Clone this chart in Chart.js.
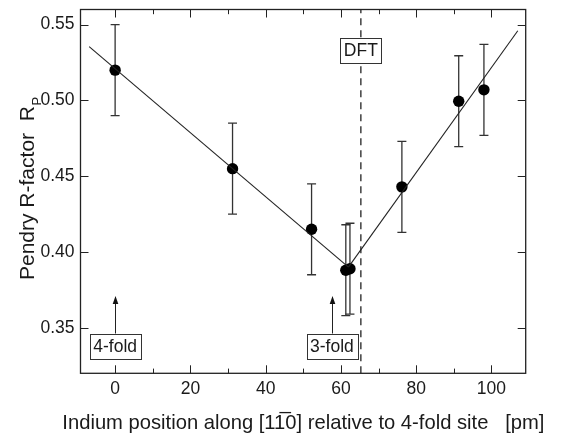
<!DOCTYPE html>
<html>
<head>
<meta charset="utf-8">
<script src="https://cdn.jsdelivr.net/npm/chart.js@4"></script>
<style>
  html, body { margin: 0; padding: 0; background: #fff; }
  #wrap { width: 561px; height: 438px; }
</style>
</head>
<body>
<div id="wrap"><canvas id="c" width="561" height="438"></canvas></div>
<script>
// ---- data ----
const positions = [0, 31.2, 52.2, 61.3, 62.4, 76.2, 91.3, 98.0];
const rFactors  = [0.520, 0.455, 0.415, 0.388, 0.389, 0.443, 0.4995, 0.507];
const rErrors   = [0.03, 0.03, 0.03, 0.03, 0.03, 0.03, 0.03, 0.03];

const leftFitX  = [-6.9, 62.0];
const leftFitY  = [0.5355, 0.390];
const rightFitX = [62.0, 107.0];
const rightFitY = [0.390, 0.546];

const dftPosition = 65.3;

const xTickValues  = [0, 10, 20, 30, 40, 50, 60, 70, 80, 90, 100];
const xLabelValues = [0, 20, 40, 60, 80, 100];
const yTickValues  = [0.35, 0.40, 0.45, 0.50, 0.55];

const annotationLabels = ['4-fold', '3-fold', 'DFT'];
const annotationX      = [0, 57.6, 65.3];
const annotationY      = [0.338, 0.338, 0.533];
const arrowX           = [0, 57.6];
const arrowTipY        = [0.371, 0.371];

const xTitle = 'Indium position along [1\u0031\u03050] relative to 4-fold site   [pm]';
const yTitleMain = 'Pendry R-factor  R';
const yTitleSub = 'P';

// ---- styling ----
const FONT = '"Liberation Sans", Arial, Helvetica, sans-serif';
const INK = '#1a1a1a';
const X_MIN = -9.2, X_MAX = 109.1, Y_MIN = 0.32, Y_MAX = 0.56;

const toXY = (xs, ys) => xs.map((x, i) => ({ x: x, y: ys[i] }));

const errorBarPlugin = {
  id: 'errorBars',
  beforeDatasetsDraw(chart) {
    const { ctx, scales: { x, y } } = chart;
    ctx.save();
    ctx.strokeStyle = '#333';
    ctx.lineWidth = 1.3;
    positions.forEach((p, i) => {
      const px = x.getPixelForValue(p);
      const top = y.getPixelForValue(rFactors[i] + rErrors[i]);
      const bot = y.getPixelForValue(rFactors[i] - rErrors[i]);
      ctx.beginPath();
      ctx.moveTo(px, top); ctx.lineTo(px, bot);
      ctx.moveTo(px - 4.5, top); ctx.lineTo(px + 4.5, top);
      ctx.moveTo(px - 4.5, bot); ctx.lineTo(px + 4.5, bot);
      ctx.stroke();
    });
    ctx.restore();
  }
};

const decorPlugin = {
  id: 'decor',
  afterDatasetsDraw(chart) {
    const { ctx, scales: { x, y } } = chart;
    ctx.save();
    // arrows
    ctx.strokeStyle = '#222';
    ctx.fillStyle = '#111';
    ctx.lineWidth = 1;
    arrowX.forEach((ax, i) => {
      const px = Math.round(x.getPixelForValue(ax)) + 0.5;
      const tip = y.getPixelForValue(arrowTipY[i]);
      const base = y.getPixelForValue(annotationY[i]) - 12.5;
      ctx.beginPath();
      ctx.moveTo(px, base); ctx.lineTo(px, tip + 6);
      ctx.stroke();
      ctx.beginPath();
      ctx.moveTo(px, tip); ctx.lineTo(px - 2.8, tip + 8); ctx.lineTo(px + 2.8, tip + 8);
      ctx.closePath(); ctx.fill();
    });
    // boxes
    ctx.font = '17.5px ' + FONT;
    ctx.textAlign = 'center';
    ctx.textBaseline = 'middle';
    annotationLabels.forEach((lab, i) => {
      const cx = x.getPixelForValue(annotationX[i]);
      const cy = y.getPixelForValue(annotationY[i]);
      const w = ctx.measureText(lab).width + 7;
      const h = 25;
      const l = Math.round(cx - w / 2) + 0.5, t = Math.round(cy - h / 2) + 0.5;
      ctx.fillStyle = '#fff';
      ctx.fillRect(l, t, Math.round(w), h);
      ctx.strokeStyle = '#333';
      ctx.lineWidth = 1;
      ctx.strokeRect(l, t, Math.round(w), h);
      ctx.fillStyle = INK;
      ctx.fillText(lab, cx, cy + 1);
    });
    ctx.restore();
  },
  afterDraw(chart) {
    const { ctx, chartArea: a, scales: { x, y } } = chart;
    ctx.save();
    ctx.strokeStyle = '#222';
    ctx.lineWidth = 1.3;
    ctx.strokeRect(a.left, a.top, a.right - a.left, a.bottom - a.top);
    ctx.lineWidth = 1;
    ctx.beginPath();
    xTickValues.forEach(v => {
      const px = Math.round(x.getPixelForValue(v)) + 0.5;
      const len = xLabelValues.includes(v) ? 8 : 4.7;
      ctx.moveTo(px, a.bottom); ctx.lineTo(px, a.bottom - len);
      ctx.moveTo(px, a.top); ctx.lineTo(px, a.top + len);
    });
    yTickValues.forEach(v => {
      const py = Math.round(y.getPixelForValue(v)) + 0.5;
      ctx.moveTo(a.left, py); ctx.lineTo(a.left + 8, py);
      ctx.moveTo(a.right, py); ctx.lineTo(a.right - 8, py);
    });
    ctx.stroke();

    // axis titles
    ctx.fillStyle = INK;
    ctx.font = '20.2px ' + FONT;
    ctx.textAlign = 'center';
    ctx.textBaseline = 'alphabetic';
    ctx.fillText(xTitle, 303.4, 429);

    ctx.save();
    ctx.translate(34, 280);
    ctx.rotate(-Math.PI / 2);
    ctx.textAlign = 'left';
    ctx.font = '21px ' + FONT;
    ctx.fillText(yTitleMain, 0, 0);
    const mw = ctx.measureText(yTitleMain).width;
    ctx.font = '13px ' + FONT;
    ctx.fillText(yTitleSub, mw + 0.5, 7);
    ctx.restore();
    ctx.restore();
  }
};

function fixPad(ax) {
  ax.paddingTop = 0; ax.paddingBottom = 0; ax.paddingLeft = 0; ax.paddingRight = 0;
}

new Chart(document.getElementById('c'), {
  type: 'scatter',
  data: {
    datasets: [
      {
        type: 'line', data: toXY(leftFitX, leftFitY),
        borderColor: '#222', borderWidth: 1.1, pointRadius: 0, fill: false
      },
      {
        type: 'line', data: toXY(rightFitX, rightFitY),
        borderColor: '#222', borderWidth: 1.1, pointRadius: 0, fill: false
      },
      {
        type: 'line', data: [{ x: dftPosition, y: Y_MIN }, { x: dftPosition, y: Y_MAX }],
        borderColor: '#222', borderWidth: 1.3, borderDash: [7, 5], pointRadius: 0, fill: false
      },
      {
        data: toXY(positions, rFactors),
        backgroundColor: '#000', borderColor: '#000', pointRadius: 5.7, borderWidth: 0
      }
    ]
  },
  options: {
    responsive: false,
    animation: false,
    layout: { padding: { top: 9.5, right: 35.3, left: 0, bottom: 0 } },
    plugins: { legend: { display: false }, tooltip: { enabled: false } },
    scales: {
      x: {
        type: 'linear', min: X_MIN, max: X_MAX,
        grid: { display: false, drawTicks: false }, border: { display: false },
        afterBuildTicks: ax => { ax.ticks = xTickValues.map(v => ({ value: v })); },
        afterFit: ax => { ax.height = 64.7; fixPad(ax); },
        ticks: {
          color: INK, padding: 5, maxRotation: 0, autoSkip: false,
          font: { family: FONT, size: 17.5 },
          callback: v => xLabelValues.includes(v) ? String(v) : ''
        }
      },
      y: {
        type: 'linear', min: Y_MIN, max: Y_MAX,
        grid: { display: false, drawTicks: false }, border: { display: false },
        afterBuildTicks: ax => { ax.ticks = yTickValues.map(v => ({ value: v })); },
        afterFit: ax => { ax.width = 80.5; fixPad(ax); },
        ticks: {
          color: INK, padding: 6, autoSkip: false,
          font: { family: FONT, size: 17.5 },
          callback: v => Number(v).toFixed(2)
        }
      }
    }
  },
  plugins: [errorBarPlugin, decorPlugin]
});
</script>
</body>
</html>
